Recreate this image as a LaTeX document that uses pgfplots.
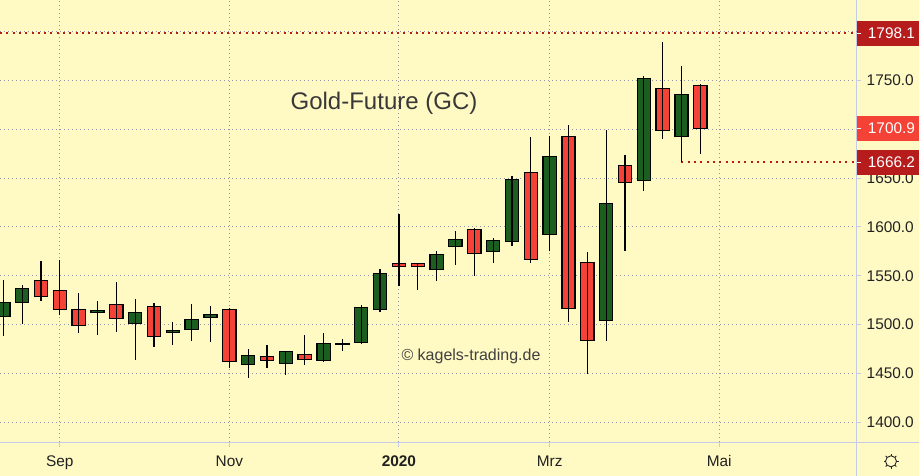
\documentclass[border=0pt]{standalone}
\usepackage{fontspec}
\setmainfont{Liberation Sans}
\usepackage{pgfplots}
\usepackage{pgfplotstable}
\pgfplotsset{compat=1.18}
\definecolor{bg}{HTML}{FFF9C4}
\definecolor{up}{HTML}{1B5E20}
\definecolor{dn}{HTML}{F44336}
\definecolor{lvl}{HTML}{B71C1C}
\definecolor{axl}{HTML}{C5CAE9}
\definecolor{gridc}{HTML}{9393A3}
\definecolor{txt}{HTML}{212121}

% c=0 green body, c=1 red body
\pgfplotstableread{
x hi top bot low c
0 1545.6 1522.8 1508.1 1488.3 0
1 1540.5 1537.2 1522.8 1500.6 0
2 1565.1 1545.3 1529.0 1524.5 1
3 1566.1 1535.1 1515.7 1509.8 1
4 1532.3 1515.7 1498.9 1491.7 1
5 1524.2 1514.6 1512.6 1489.7 0
6 1543.6 1520.8 1506.4 1492.7 1
7 1526.2 1512.6 1501.3 1464.1 0
8 1522.1 1518.7 1488.0 1477.4 1
9 1502.7 1494.2 1492.1 1479.4 0
10 1521.1 1505.4 1495.2 1483.5 0
11 1519.0 1510.5 1507.5 1482.5 0
12 1516.7 1515.7 1462.4 1455.6 1
13 1475.0 1468.2 1459.4 1445.6 0
14 1479.1 1467.6 1463.5 1455.9 1
15 1472.7 1472.7 1460.4 1448.7 0
16 1489.4 1469.6 1464.5 1459.0 1
17 1491.4 1480.9 1463.5 1462.0 0
18 1485.3 1480.9 1479.8 1473.3 0
19 1520.1 1517.7 1481.9 1480.4 0
20 1556.9 1552.5 1515.7 1513.2 0
21 1613.2 1562.7 1559.7 1539.8 1
22 1562.7 1562.7 1559.7 1535.7 1
23 1575.3 1571.9 1556.6 1544.9 0
24 1595.8 1587.3 1580.1 1561.3 0
25 1598.6 1597.5 1573.0 1550.0 1
26 1588.6 1586.3 1575.0 1563.4 0
27 1652.1 1648.7 1585.3 1580.8 0
28 1692.0 1655.9 1566.8 1563.4 1
29 1693.0 1672.3 1592.4 1575.3 0
30 1704.3 1692.7 1516.7 1503.0 1
31 1574.3 1563.8 1483.9 1449.4 1
32 1699.2 1624.1 1504.4 1483.5 0
33 1673.6 1663.0 1645.6 1575.6 1
34 1754.4 1752.1 1647.7 1637.0 0
35 1789.2 1741.8 1698.9 1690.3 1
36 1764.7 1735.7 1692.7 1666.1 0
37 1746.2 1744.9 1700.9 1674.9 1
}\gold

\begin{document}
\begin{tikzpicture}[x=1pt,y=1pt]
\fill[bg] (0,-33.7) rectangle (919,442.3);
\path[use as bounding box] (0,-33.7) rectangle (919,442.3);
\begin{axis}[
    at={(0,0)}, anchor=south west,
    scale only axis,
    width=856.5pt, height=442.3pt,
    xmin=-0.175, xmax=45.29,
    ymin=1379.5, ymax=1832.2,
    axis x line*=bottom, axis y line*=right,
    axis line style={draw=axl, line width=1pt, -},
    xtick={3,12,21,29,38},
    xticklabels={Sep,Nov,\textbf{2020},Mrz,Mai},
    ytick={1400,1450,...,1750},
    extra y ticks={1800},
    extra y tick labels={},
    tick align=outside,
    major tick length=4.5pt,
    tick style={draw=axl, line width=1pt},
    grid=major,
    grid style={draw=gridc, line width=0.9pt, dash pattern=on 1.2pt off 2.8pt},
    ticklabel style={font=\fontsize{15.4}{15.4}\selectfont, text=txt},
    yticklabel style={inner sep=0pt, xshift=5.5pt},
    xticklabel style={inner sep=0pt, yshift=-8.5pt},
    /pgf/number format/fixed,
    /pgf/number format/fixed zerofill,
    /pgf/number format/precision=1,
    /pgf/number format/1000 sep={},
    /pgf/number format/assume math mode=true,
    stack plots=y,
    clip=true,
]
% wicks
\addplot[stack plots=false, draw=none, mark=none, forget plot,
    error bars/.cd, y dir=both, y explicit,
    error mark=none,
    error bar style={draw=black, line width=1.2pt}]
  table[x=x, y=top,
    y error plus expr=\thisrow{hi}-\thisrow{top},
    y error minus expr=\thisrow{top}-\thisrow{low}] {\gold};
% level lines
\addplot[stack plots=false, lvl, mark=none, line width=2pt, dash pattern=on 2pt off 4.3pt]
  coordinates {(-0.175,1798.1) (45.2,1798.1)};
\addplot[stack plots=false, lvl, mark=none, line width=2pt, dash pattern=on 2pt off 4.3pt]
  coordinates {(36,1666.2) (45.15,1666.2)};
% bodies, stacked on an invisible base
\addplot[ybar, bar width=13.2pt, bar shift=0pt, draw=none, fill=none]
  table[x=x, y=bot] {\gold};
\addplot[ybar, bar width=13.2pt, bar shift=0pt, draw=black, line width=1.3pt, fill=up]
  table[x=x, y expr={\thisrow{c}==0 ? \thisrow{top}-\thisrow{bot} : 0}] {\gold};
\addplot[ybar, bar width=13.2pt, bar shift=0pt, draw=black, line width=1.3pt, fill=dn]
  table[x=x, y expr={\thisrow{c}==1 ? \thisrow{top}-\thisrow{bot} : 0}] {\gold};
\end{axis}
% right and bottom strips
\draw[axl, line width=1pt] (856.5,-33.7) -- (856.5,0);
\draw[axl, line width=1pt] (856.5,0) -- (919,0);
% last-value labels (picture y = 442.3 - pixel y)
\foreach \yt/\yb/\c/\t in {421.3/396.3/lvl/1798.1, 326.3/301.3/dn/1700.9, 292.3/267.3/lvl/1666.2}{
  \fill[\c] (856.5,\yb) rectangle (919,\yt);
  \draw[white, line width=1pt] (856.5,{(\yt+\yb)/2}) -- (861,{(\yt+\yb)/2});
  \node[anchor=west, inner sep=0pt, text=white, font=\fontsize{15.4}{15.4}\selectfont] at (867.7,{(\yt+\yb)/2}) {\t};
}
\node[text=black!78, font=\fontsize{24}{24}\selectfont] at (384,338.8) {Gold-Future (GC)};
\node[text=black!75, font=\fontsize{16}{16}\selectfont] at (471,85.5) {© kagels-trading.de};
% settings icon
\draw[black!85, line width=0.9pt] (891,-19) circle (5.5);
\foreach \a in {0,45,...,315}{
  \draw[black!85, line width=0.9pt] (891,-19) ++(\a:5.5) -- ++(\a:2);
}
\end{tikzpicture}
\end{document}
